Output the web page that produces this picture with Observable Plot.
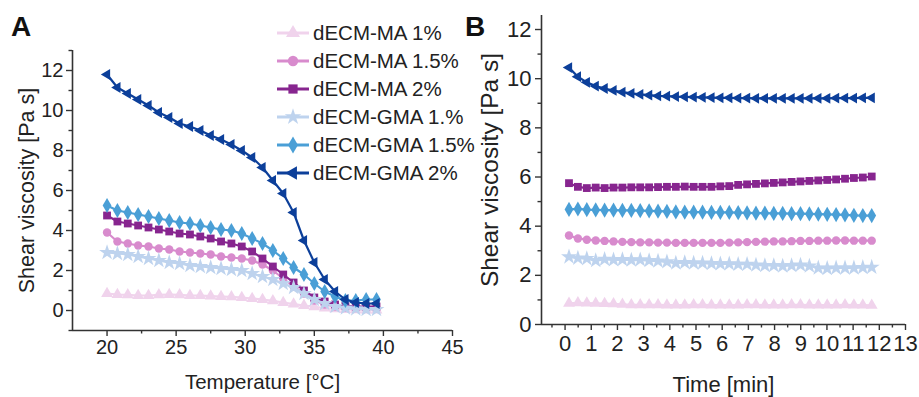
<!DOCTYPE html>
<html>
<head>
<meta charset="utf-8">
<script src="https://cdn.jsdelivr.net/npm/d3@7"></script>
<script src="https://cdn.jsdelivr.net/npm/@observablehq/plot@0.6"></script>
<style>
  html, body { margin: 0; padding: 0; background: #fff; }
  #wrap { position: relative; width: 919px; height: 397px; overflow: hidden; font-family: "Liberation Sans", Arial, sans-serif; color: #222; }
  #wrap svg { position: absolute; top: 0; }
  .panel { position: absolute; font-weight: bold; font-size: 28px; line-height: 1; color: #111; }
  #legend { position: absolute; left: 277px; top: 19px; font-size: 20.5px; }
  .lrow { display: flex; align-items: center; height: 28px; white-space: nowrap; }
  .lrow svg { position: static !important; margin-right: 4px; }
</style>
</head>
<body>
<div id="wrap"></div>
<script>
// ---------- data ----------
const seriesNames = ["dECM-MA 1%", "dECM-MA 1.5%", "dECM-MA 2%", "dECM-GMA 1.%", "dECM-GMA 1.5%", "dECM-GMA 2%"];
const seriesColors = ["#f0d3ec", "#d88bcd", "#87258f", "#bed3ee", "#4a9fd6", "#0c3f9a"];

// Panel A: temperature sweep
const tempA = [20, 20.75, 21.5, 22.25, 23, 23.75, 24.5, 25.25, 26, 26.75, 27.5, 28.25, 29, 29.75, 30.5, 31.25, 32, 32.75, 33.5, 34.25, 35, 35.75, 36.5, 37.25, 38, 38.75, 39.5];
const ma1A   = [0.85, 0.8, 0.78, 0.75, 0.75, 0.78, 0.8, 0.78, 0.75, 0.75, 0.72, 0.7, 0.68, 0.65, 0.6, 0.55, 0.48, 0.4, 0.32, 0.25, 0.18, 0.12, 0.08, 0.05, 0.03, 0.02, 0.02];
const ma15A  = [3.9, 3.45, 3.35, 3.25, 3.2, 3.1, 3.05, 2.95, 2.9, 2.85, 2.8, 2.7, 2.65, 2.6, 2.5, 2.3, 2.0, 1.6, 1.2, 0.85, 0.5, 0.3, 0.2, 0.15, 0.12, 0.1, 0.1];
const ma2A   = [4.75, 4.45, 4.35, 4.25, 4.15, 4.05, 3.95, 3.85, 3.8, 3.7, 3.6, 3.45, 3.35, 3.2, 2.95, 2.6, 2.2, 1.8, 1.4, 1.0, 0.65, 0.45, 0.3, 0.25, 0.2, 0.2, 0.2];
const gma1A  = [2.9, 2.85, 2.8, 2.7, 2.6, 2.5, 2.4, 2.35, 2.25, 2.2, 2.15, 2.1, 2.05, 2.0, 1.85, 1.7, 1.55, 1.35, 1.15, 0.85, 0.55, 0.35, 0.2, 0.12, 0.08, 0.05, 0.05];
const gma15A = [5.25, 5.0, 4.9, 4.8, 4.7, 4.6, 4.5, 4.4, 4.35, 4.25, 4.15, 4.05, 4.0, 3.85, 3.6, 3.35, 3.0, 2.6, 2.15, 1.8, 1.35, 0.95, 0.7, 0.5, 0.5, 0.55, 0.55];
const gma2A  = [11.8, 11.15, 10.85, 10.55, 10.25, 9.9, 9.65, 9.35, 9.2, 9.0, 8.75, 8.55, 8.3, 8.0, 7.65, 7.15, 6.5, 5.85, 4.9, 3.5, 2.4, 1.55, 0.95, 0.55, 0.4, 0.35, 0.35];

// Panel B: time sweep
const timeB = [0.15, 0.49, 0.83, 1.17, 1.51, 1.85, 2.19, 2.53, 2.87, 3.21, 3.55, 3.89, 4.23, 4.57, 4.91, 5.25, 5.59, 5.93, 6.27, 6.61, 6.95, 7.29, 7.63, 7.97, 8.31, 8.65, 8.99, 9.33, 9.67, 10.01, 10.35, 10.69, 11.03, 11.37, 11.71];
const ma1B   = [0.86, 0.88, 0.87, 0.86, 0.85, 0.84, 0.82, 0.8, 0.8, 0.8, 0.8, 0.79, 0.79, 0.79, 0.8, 0.8, 0.79, 0.79, 0.79, 0.79, 0.8, 0.8, 0.79, 0.79, 0.79, 0.8, 0.8, 0.79, 0.79, 0.79, 0.79, 0.8, 0.79, 0.79, 0.78];
const ma15B  = [3.62, 3.5, 3.45, 3.42, 3.4, 3.38, 3.36, 3.35, 3.34, 3.34, 3.33, 3.33, 3.32, 3.32, 3.32, 3.32, 3.32, 3.32, 3.33, 3.34, 3.35, 3.36, 3.37, 3.38, 3.38, 3.39, 3.4, 3.4, 3.41, 3.41, 3.42, 3.42, 3.41, 3.41, 3.41];
const ma2B   = [5.75, 5.6, 5.55, 5.57, 5.55, 5.57, 5.57, 5.58, 5.58, 5.58, 5.59, 5.6, 5.6, 5.61, 5.6, 5.6, 5.6, 5.62, 5.63, 5.68, 5.7, 5.72, 5.74, 5.76, 5.78, 5.8, 5.82, 5.84, 5.86, 5.88, 5.9, 5.93, 5.96, 5.98, 6.02];
const gma1B  = [2.75, 2.7, 2.68, 2.6, 2.65, 2.63, 2.64, 2.62, 2.63, 2.6, 2.58, 2.55, 2.5, 2.52, 2.5, 2.5, 2.48, 2.47, 2.47, 2.45, 2.45, 2.42, 2.4, 2.4, 2.38, 2.4, 2.42, 2.38, 2.3, 2.28, 2.3, 2.3, 2.3, 2.32, 2.33];
const gma15B = [4.68, 4.7, 4.67, 4.66, 4.65, 4.65, 4.64, 4.64, 4.63, 4.62, 4.61, 4.6, 4.58, 4.57, 4.57, 4.57, 4.56, 4.56, 4.56, 4.55, 4.54, 4.53, 4.53, 4.52, 4.52, 4.51, 4.51, 4.5, 4.49, 4.48, 4.47, 4.46, 4.44, 4.43, 4.43];
const gma2B  = [10.45, 10.08, 9.85, 9.7, 9.6, 9.52, 9.45, 9.4, 9.36, 9.33, 9.3, 9.29, 9.27, 9.26, 9.25, 9.24, 9.23, 9.22, 9.22, 9.21, 9.21, 9.2, 9.2, 9.2, 9.2, 9.2, 9.2, 9.2, 9.2, 9.2, 9.21, 9.21, 9.21, 9.22, 9.22];

// axis ticks
const xTicksA = [20, 25, 30, 35, 40, 45];
const xMinorA = [22.5, 27.5, 32.5, 37.5, 42.5];
const yTicksA = [0, 2, 4, 6, 8, 10, 12];
const yMinorA = [-1, 1, 3, 5, 7, 9, 11, 13];
const xTicksB = [0, 1, 2, 3, 4, 5, 6, 7, 8, 9, 10, 11, 12, 13];
const xMinorB = [-0.5, 0.5, 1.5, 2.5, 3.5, 4.5, 5.5, 6.5, 7.5, 8.5, 9.5, 10.5, 11.5, 12.5];
const yTicksB = [0, 2, 4, 6, 8, 10, 12];
const yMinorB = [1, 3, 5, 7, 9, 11];

// ---------- symbols ----------
const triLeft = {
  draw(context, size) {
    const R = Math.sqrt(size / 1.299);
    context.moveTo(-R, 0);
    context.lineTo(R / 2, -R * 0.866);
    context.lineTo(R / 2, R * 0.866);
    context.closePath();
  }
};
const plotSymbols = ["triangle", "circle", "square", "star", "diamond", triLeft];
const d3Symbols = [d3.symbolTriangle, d3.symbolCircle, d3.symbolSquare, d3.symbolStar, d3.symbolDiamond, triLeft];
const markerR = [4.4, 4.2, 4.4, 5.0, 4.6, 4.0];

const seriesA = [ma1A, ma15A, ma2A, gma1A, gma15A, gma2A];
const seriesB = [ma1B, ma15B, ma2B, gma1B, gma15B, gma2B];

function rowsFor(xs, ys) { return xs.map((x, i) => ({x, y: ys[i]})); }

function seriesMarks(xs, all) {
  const marks = [];
  all.forEach((ys, k) => {
    const rows = rowsFor(xs, ys);
    marks.push(Plot.line(rows, {x: "x", y: "y", stroke: seriesColors[k], strokeWidth: 2.2}));
    marks.push(Plot.dot(rows, {x: "x", y: "y", fill: seriesColors[k], stroke: "none", r: markerR[k], symbol: plotSymbols[k]}));
  });
  return marks;
}

const FONT = '"Liberation Sans", Arial, sans-serif';
const wrap = document.getElementById("wrap");

// ---------- Panel A ----------
const xDomA = [17.5, 45], yDomA = [-1, 13];
const plotA = Plot.plot({
  width: 470, height: 397,
  marginLeft: 72, marginRight: 18, marginTop: 50, marginBottom: 67,
  style: {fontFamily: FONT, fontSize: "20px", color: "#222", background: "transparent", overflow: "visible"},
  x: {domain: xDomA, label: null},
  y: {domain: yDomA, label: null},
  marks: [
    ...seriesMarks(tempA, seriesA),
    Plot.ruleX([xDomA[0]], {stroke: "#333", strokeWidth: 1.6}),
    Plot.ruleY([yDomA[0]], {stroke: "#333", strokeWidth: 1.6}),
    Plot.axisX(xTicksA, {tickSize: 6, tickPadding: 3, fontSize: 20, label: null, stroke: "#333", strokeWidth: 1.4}),
    Plot.axisX(xMinorA, {tickSize: 3.5, tickFormat: () => "", label: null, stroke: "#333", strokeWidth: 1.4}),
    Plot.axisY(yTicksA, {tickSize: 6, tickPadding: 3, fontSize: 20, label: null, stroke: "#333", strokeWidth: 1.4}),
    Plot.axisY(yMinorA, {tickSize: 3.5, tickFormat: () => "", label: null, stroke: "#333", strokeWidth: 1.4}),
    Plot.text(["Temperature [°C]"], {frameAnchor: "bottom", dy: 52, fontSize: 20.5, textAnchor: "middle", lineAnchor: "middle", fill: "#222"}),
    Plot.text(["Shear viscosity [Pa s]"], {frameAnchor: "left", dx: -45, rotate: -90, fontSize: 21.5, textAnchor: "middle", lineAnchor: "middle", fill: "#222"})
  ]
});
plotA.style.left = "0px";
wrap.appendChild(plotA);

// ---------- Panel B ----------
const xDomB = [-0.9, 13], yDomB = [0, 12.57];
const plotB = Plot.plot({
  width: 449, height: 397,
  marginLeft: 71, marginRight: 14, marginTop: 15, marginBottom: 73,
  style: {fontFamily: FONT, fontSize: "22px", color: "#222", background: "transparent", overflow: "visible"},
  x: {domain: xDomB, label: null},
  y: {domain: yDomB, label: null},
  marks: [
    ...seriesMarks(timeB, seriesB),
    Plot.ruleX([xDomB[0]], {stroke: "#333", strokeWidth: 1.6}),
    Plot.ruleY([yDomB[0]], {stroke: "#333", strokeWidth: 1.6}),
    Plot.axisX(xTicksB, {tickSize: 6, tickPadding: 5, fontSize: 22, label: null, stroke: "#333", strokeWidth: 1.4}),
    Plot.axisX(xMinorB, {tickSize: 3.5, tickFormat: () => "", label: null, stroke: "#333", strokeWidth: 1.4}),
    Plot.axisY(yTicksB, {tickSize: 6, tickPadding: 4, fontSize: 22, label: null, stroke: "#333", strokeWidth: 1.4}),
    Plot.axisY(yMinorB, {tickSize: 3.5, tickFormat: () => "", label: null, stroke: "#333", strokeWidth: 1.4}),
    Plot.text(["Time [min]"], {frameAnchor: "bottom", dy: 60, fontSize: 22, textAnchor: "middle", lineAnchor: "middle", fill: "#222"}),
    Plot.text(["Shear viscosity [Pa s]"], {frameAnchor: "left", dx: -51, rotate: -90, fontSize: 24.5, textAnchor: "middle", lineAnchor: "middle", fill: "#222"})
  ]
});
plotB.style.left = "470px";
wrap.appendChild(plotB);

// ---------- panel letters ----------
const la = document.createElement("div");
la.className = "panel"; la.textContent = "A";
la.style.left = "11px"; la.style.top = "13px";
wrap.appendChild(la);
const lb = document.createElement("div");
lb.className = "panel"; lb.textContent = "B";
lb.style.left = "465px"; lb.style.top = "13px";
wrap.appendChild(lb);

// ---------- legend ----------
const legend = document.createElement("div");
legend.id = "legend";
seriesNames.forEach((name, k) => {
  const row = document.createElement("div");
  row.className = "lrow";
  const sw = d3.create("svg").attr("width", 32).attr("height", 20);
  sw.append("line").attr("x1", 0).attr("x2", 32).attr("y1", 10).attr("y2", 10)
    .attr("stroke", seriesColors[k]).attr("stroke-width", 3);
  sw.append("path").attr("transform", "translate(16,10)")
    .attr("d", d3.symbol(d3Symbols[k], k === 5 ? 80 : 85)())
    .attr("fill", seriesColors[k]);
  row.appendChild(sw.node());
  const t = document.createElement("span");
  t.textContent = name;
  row.appendChild(t);
  legend.appendChild(row);
});
wrap.appendChild(legend);
</script>
</body>
</html>
